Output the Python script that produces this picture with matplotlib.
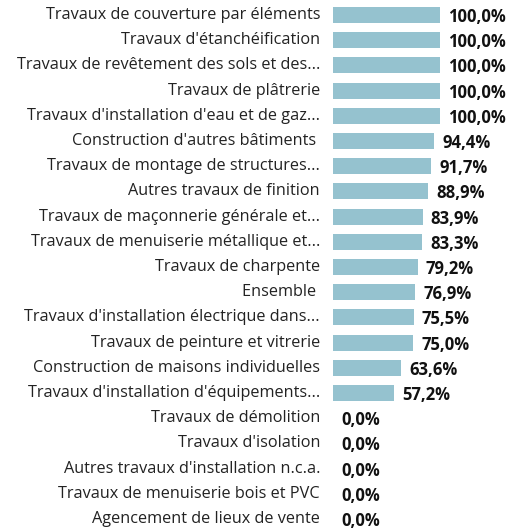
import matplotlib.pyplot as plt
import numpy as np

# categories and values (in %)
categories = [
    "Travaux de couverture par éléments",
    "Travaux d'étanchéification",
    "Travaux de revêtement des sols et des...",
    "Travaux de plâtrerie",
    "Travaux d'installation d'eau et de gaz...",
    "Construction d'autres bâtiments ",
    "Travaux de montage de structures...",
    "Autres travaux de finition",
    "Travaux de maçonnerie générale et...",
    "Travaux de menuiserie métallique et...",
    "Travaux de charpente",
    "Ensemble ",
    "Travaux d'installation électrique dans...",
    "Travaux de peinture et vitrerie",
    "Construction de maisons individuelles",
    "Travaux d'installation d'équipements...",
    "Travaux de démolition",
    "Travaux d'isolation",
    "Autres travaux d'installation n.c.a.",
    "Travaux de menuiserie bois et PVC",
    "Agencement de lieux de vente",
]
values = [100.0, 100.0, 100.0, 100.0, 100.0, 94.4, 91.7, 88.9, 83.9, 83.3,
          79.2, 76.9, 75.5, 75.0, 63.6, 57.2, 0.0, 0.0, 0.0, 0.0, 0.0]

plt.rcParams['font.family'] = ['Open Sans', 'DejaVu Sans']

W, H = 511, 532
fig = plt.figure(figsize=(W / 100, H / 100), dpi=100, facecolor='w')
# axes: x from bar start (333px) to 100% end (440px)
ax = fig.add_axes([333 / W, 0, 107 / W, 1])
pitch = 25.2
y = np.arange(len(categories))
ax.barh(y, values, height=0.63, color='#95c2cf')
ax.set_xlim(0, 100)
ax.set_ylim((H - 15) / pitch, -15 / pitch)
ax.axis('off')

for i, (cat, v) in enumerate(zip(categories, values)):
    ax.annotate(cat, (0, i), xytext=(-13, 0), textcoords='offset pixels',
                ha='right', va='center', fontsize=11.7, color='#222222',
                annotation_clip=False)
    ax.annotate(f"{v:.1f}%".replace('.', ','), (v, i), xytext=(8, -2),
                textcoords='offset pixels', ha='left', va='center',
                fontsize=12, fontweight='bold', color='#111111',
                annotation_clip=False)

plt.savefig('out.png', dpi=100)
